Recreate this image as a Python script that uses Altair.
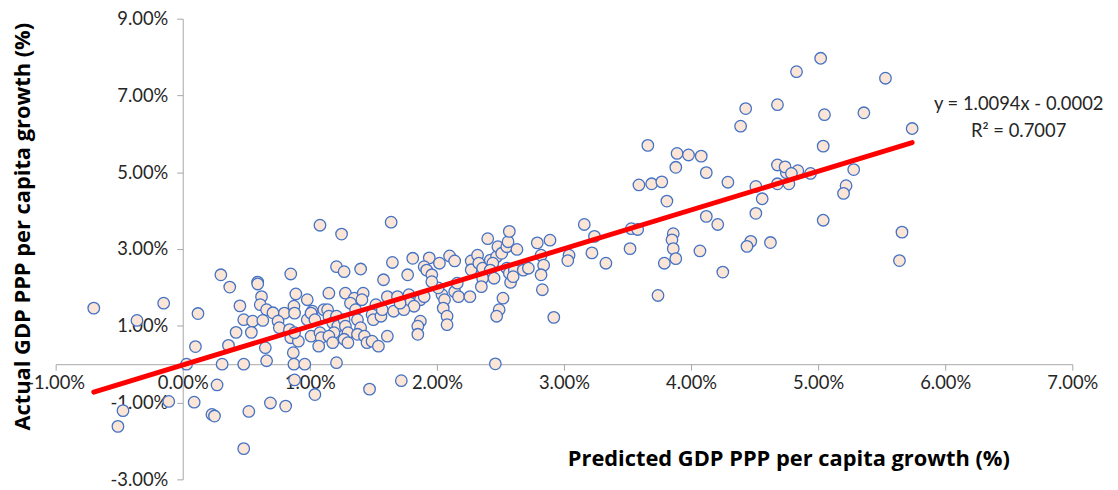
import altair as alt
import pandas as pd

# Predicted GDP PPP per capita growth (%)
predicted = [
    -0.70, -0.36, -0.15, 0.12, 0.30, 0.37, 0.59, 0.59, 0.45, 0.62, 0.61, 0.66, 0.71, 0.48, 0.55,
    0.63, 0.42, 0.54, 0.10, 0.36, 0.65, 0.03, 0.31, 0.48, 0.66, 0.27, -0.11, 0.09, -0.47, -0.51,
    0.23, 0.25, 0.52, 0.69, 0.48,
    0.85, 0.89, 0.98, 0.80, 0.875, 0.88, 1.02, 1.11, 0.75, 0.76, 0.84, 0.85, 0.91, 1.01, 1.08,
    1.09, 1.07, 0.98, 0.87, 0.875, 0.96, 0.88, 0.81, 1.04,
    1.08, 1.25, 1.64, 1.21, 1.27, 1.40, 1.65, 1.58, 1.81, 1.94, 1.90, 1.92, 1.96, 2.02, 2.10,
    2.14, 1.77, 1.15, 1.28, 1.35, 1.42, 1.41, 1.52, 1.61, 1.69, 1.78, 1.87, 1.90, 1.79, 1.82,
    2.04, 2.06, 2.05, 2.08, 2.08, 2.14, 2.17, 2.26,
    0.88, 1.01, 1.04, 1.14, 1.15, 1.18, 1.21, 1.22, 1.19, 1.15, 1.18, 1.27, 1.28, 1.30, 1.27,
    1.30, 1.32, 1.36, 1.375, 1.40, 1.375, 1.43, 1.45, 1.49, 1.50, 1.56, 1.49, 1.54, 1.61, 1.57,
    1.66, 1.74, 1.71, 1.87, 1.85, 1.85, 1.21, 1.47, 1.72, 2.01, 2.16, 1.96,
    2.27, 2.32, 2.27, 2.33, 2.36, 2.42, 2.47, 2.44, 2.42, 2.40, 2.36, 2.35, 2.45, 2.48, 2.51,
    2.55, 2.56, 2.63, 2.57, 2.52, 2.49, 2.47, 2.58, 2.46, 2.55, 2.57, 2.61, 2.60, 2.68, 2.72,
    2.79, 2.89, 2.82, 2.84, 2.82, 2.83, 3.04, 3.03, 3.22, 3.33, 3.52, 3.79, 3.74, 3.16, 3.24,
    3.53, 3.58, 3.59, 3.69, 3.77, 3.81, 2.92, 3.86, 3.85, 3.86, 3.88,
    4.12, 4.29, 4.51, 4.56, 4.68, 4.77, 4.75, 4.94, 5.28, 5.22, 5.20, 5.04, 4.12, 4.21, 4.51,
    4.47, 4.44, 4.625, 4.07, 4.25, 5.66, 5.64, 5.02, 4.83, 5.53, 4.43, 4.68, 4.39, 5.05, 5.36,
    5.74, 3.66, 5.04, 3.89, 3.98, 4.08, 3.88, 4.68, 4.74, 4.84, 4.79,
]

# Actual GDP PPP per capita growth (%)
actual = [
    1.46, 1.14, 1.59, 1.32, 2.33, 2.01, 2.14, 2.09, 1.52, 1.76, 1.55, 1.42, 1.34, 1.16, 1.12,
    1.14, 0.83, 0.83, 0.46, 0.49, 0.43, 0.00, 0.00, 0.00, 0.09, -0.54, -0.97, -0.99, -1.21, -1.62,
    -1.31, -1.35, -1.23, -1.01, -2.20,
    2.35, 1.83, 1.68, 1.33, 1.51, 1.33, 1.38, 1.42, 1.12, 0.95, 0.90, 0.69, 0.60, 0.73, 0.82,
    0.69, 0.47, 1.16, 0.30, 0.00, 0.00, -0.41, -1.09, -0.79,
    3.62, 3.39, 3.70, 2.54, 2.41, 2.48, 2.65, 2.20, 2.76, 2.77, 2.54, 2.45, 2.33, 2.63, 2.82,
    2.69, 2.33, 1.85, 1.85, 1.72, 1.85, 1.68, 1.55, 1.76, 1.76, 1.81, 1.68, 1.76, 1.59, 1.51,
    1.81, 1.68, 1.46, 1.25, 1.03, 1.89, 1.76, 1.76,
    0.82, 1.33, 1.16, 1.42, 1.25, 1.08, 1.25, 0.99, 0.82, 0.73, 0.56, 1.16, 0.99, 0.82, 0.65,
    0.56, 1.59, 1.42, 1.16, 0.95, 0.78, 0.73, 0.56, 1.29, 1.16, 1.25, 0.60, 0.47, 0.73, 1.42,
    1.38, 1.42, 1.59, 1.12, 0.99, 0.78, 0.04, -0.65, -0.43, 1.99, 2.11, 2.15,
    2.69, 2.84, 2.46, 2.63, 2.50, 2.71, 2.80, 2.63, 2.45, 3.27, 2.24, 2.02, 2.24, 3.06, 2.89,
    3.06, 3.19, 2.99, 3.46, 1.72, 1.42, 1.25, 2.13, 0.01, 2.50, 2.37, 2.45, 2.28, 2.45, 2.50,
    3.16, 3.23, 2.84, 2.58, 2.33, 1.94, 2.84, 2.70, 2.90, 2.63, 3.01, 2.63, 1.79, 3.64, 3.33,
    3.53, 3.51, 4.67, 4.70, 4.75, 4.25, 1.22, 3.40, 3.24, 3.01, 2.75,
    4.99, 4.74, 4.63, 4.31, 4.70, 4.70, 4.99, 4.97, 5.07, 4.65, 4.45, 3.75, 3.85, 3.64, 3.93,
    3.20, 3.07, 3.17, 2.95, 2.40, 3.44, 2.70, 7.97, 7.62, 7.45, 6.66, 6.76, 6.20, 6.50, 6.55,
    6.14, 5.70, 5.68, 5.49, 5.45, 5.42, 5.13, 5.19, 5.14, 5.04, 4.97,
]

# Trendline as reported on the chart
slope = 1.0094
intercept = -0.0002
r_squared = 0.7007

x_ticks = [-0.01, 0.0, 0.01, 0.02, 0.03, 0.04, 0.05, 0.06, 0.07]
y_ticks = [-0.03, -0.01, 0.01, 0.03, 0.05, 0.07, 0.09]

df = pd.DataFrame({"pred": [v / 100 for v in predicted],
                   "actual": [v / 100 for v in actual]})
xmin, xmax = df["pred"].min(), df["pred"].max()
line_df = pd.DataFrame({"pred": [xmin, xmax],
                        "actual": [slope * xmin + intercept, slope * xmax + intercept]})
eq_df = pd.DataFrame({"t": [0]})
eq_lines = [f"y = {slope:.4f}x - {abs(intercept):.4f}", f"R\u00b2 = {r_squared:.4f}"]

W, H = 1024, 464
FONT = "Lato"
TFONT = "Open Sans"
label_expr = "replace(datum.label, '\u2212', '-')"

xscale = alt.Scale(domain=[-0.01, 0.07], nice=False, zero=False)
yscale = alt.Scale(domain=[-0.03, 0.09], nice=False, zero=False)

xaxis = alt.Axis(
    values=x_ticks, format=".2%", labelExpr=label_expr, offset=-H * 3 / 12,
    grid=False, domainColor="#A6A6A6", tickColor="#A6A6A6", tickSize=6,
    labelFont=FONT, labelFontSize=18.5, labelColor="#262626", labelPadding=3,
    labelFlush=False, labelOverlap=False,
    title="Predicted GDP PPP per capita growth (%)", titleFont=TFONT, titleFontSize=22,
    titleFontWeight="bold", titleColor="#000000", titleX=738, titleY=95,
    titleBaseline="middle", titleAlign="center",
)
yaxis = alt.Axis(
    values=y_ticks, format=".2%", labelExpr=label_expr, offset=-W / 8,
    grid=False, domainColor="#A6A6A6", tickColor="#A6A6A6", tickSize=6,
    labelFont=FONT, labelFontSize=18.5, labelColor="#262626", labelPadding=9,
    labelFlush=False, labelOverlap=False,
    title="Actual GDP PPP per capita growth (%)", titleFont=TFONT, titleFontSize=22,
    titleFontWeight="bold", titleColor="#000000", titleX=-161, titleY=209,
    titleAngle=-90, titleBaseline="middle", titleAlign="center",
)

points = alt.Chart(df).mark_circle(
    size=135, fill="#FBE5D6", stroke="#4472C4", strokeWidth=1.3, opacity=1
).encode(
    x=alt.X("pred:Q", scale=xscale, axis=xaxis),
    y=alt.Y("actual:Q", scale=yscale, axis=yaxis),
)

trend = alt.Chart(line_df).mark_line(color="#FF0000", strokeWidth=5, strokeCap="round").encode(
    x=alt.X("pred:Q", scale=xscale),
    y=alt.Y("actual:Q", scale=yscale),
)

equation = alt.Chart(eq_df).mark_text(
    text=eq_lines, font=FONT, fontSize=18.5, color="#262626", align="center",
    baseline="middle", lineHeight=27,
).encode(x=alt.value(970), y=alt.value(86))

chart = alt.layer(points, trend, equation).properties(
    width=W, height=H,
    padding={"left": 48, "top": 9, "right": 38, "bottom": 20},
    autosize=alt.AutoSizeParams(type="none"),
    background="white",
).configure_view(stroke=None)

chart.save("out.html", embed_options={"renderer": "svg", "actions": False})
